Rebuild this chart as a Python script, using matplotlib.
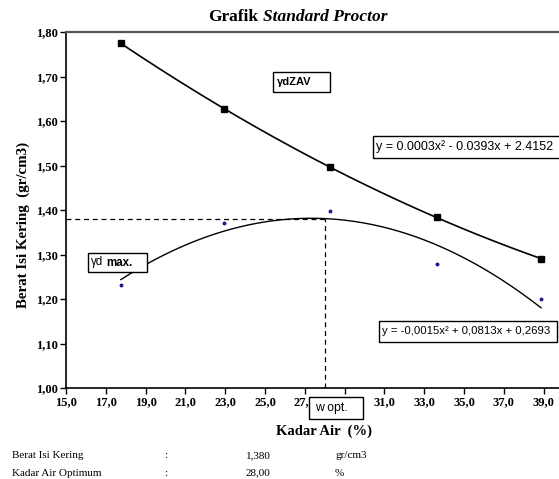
import numpy as np
import matplotlib.pyplot as plt
from matplotlib.patches import Rectangle

# Data
KadarAir = [17.76, 22.92, 28.27, 33.66, 38.87]
BeratIsi_Lab = [1.231, 1.371, 1.398, 1.278, 1.199]
BeratIsi_ZAV = [1.775, 1.627, 1.496, 1.384, 1.290]
GammaMax = 1.38
W_Opt = 28.0
X_Ticks = np.arange(15, 40, 2)
Y_Ticks = np.arange(1.0, 1.81, 0.1)
Eq_ZAV = "y = 0.0003x\u00b2 - 0.0393x + 2.4152"
Eq_Lab = "y = -0,0015x\u00b2 + 0,0813x + 0,2693"

serif = "Liberation Serif"
sans = "Liberation Sans"
W, H = 559, 479

fig = plt.figure(figsize=(5.59, 4.79), dpi=100)
ax = fig.add_axes([66/W, 1 - 388/H, 1 - 66/W, (388 - 32)/H])

# Trendlines (2nd order polynomial) through the points
x_fit = np.linspace(KadarAir[0], KadarAir[-1], 200)
c_zav = np.polyfit(KadarAir, BeratIsi_ZAV, 2)
c_lab = np.polyfit(KadarAir, BeratIsi_Lab, 2)
ax.plot(x_fit, np.polyval(c_zav, x_fit), color="black", lw=1.2, zorder=2)
ax.plot(x_fit, np.polyval(c_lab, x_fit), color="black", lw=1.0, zorder=2)
ax.plot(KadarAir, BeratIsi_ZAV, "s", color="black", ms=5, zorder=3)
ax.plot(KadarAir, BeratIsi_Lab, "o", color="#1a1a8c", ms=1.8, zorder=3)

# Optimum lines
ax.plot([15, W_Opt], [GammaMax, GammaMax], color="black", lw=0.9, ls=(0, (4, 3)), zorder=2)
ax.plot([W_Opt, W_Opt], [1.0, GammaMax], color="black", lw=0.9, ls=(0, (4, 3)), zorder=2)

ax.set_xlim(15, 15 + (W - 66) / 19.9)
ax.set_ylim(1.0, 1.8)
ax.set_xticks(X_Ticks)
# the 29,0 label sits under the "w opt." box, so it is left blank
ax.set_xticklabels(["" if v == 29 else f"{v:.1f}".replace(".", ",") for v in X_Ticks])
ax.set_yticks(Y_Ticks)
ax.set_yticklabels([f"{v:.2f}".replace(".", ",") for v in Y_Ticks])
for lab in ax.get_xticklabels() + ax.get_yticklabels():
      lab.set_fontfamily(serif)
      lab.set_fontweight("bold")
      lab.set_fontsize(9)
ax.tick_params(direction="out", length=4, width=1, pad=2)
ax.spines["right"].set_visible(False)
ax.spines["top"].set_color("#555555")
ax.spines["top"].set_linewidth(1.6)
for s in ["left", "bottom"]:
      ax.spines[s].set_linewidth(1.2)

# Label boxes (pixel extents x0, y0, x1, y1 from top-left)
def label_box(x0, y0, x1, y1, pieces):
      fig.add_artist(Rectangle((x0/W, 1 - y1/H), (x1 - x0)/W, (y1 - y0)/H, transform=fig.transFigure,
                               fc="white", ec="black", lw=1.0, zorder=5))
      for px, txt, kw in pieces:
            fig.text(px/W, 1 - (y0 + y1)/2/H, txt, ha="left", va="center", zorder=6, **kw)

label_box(273, 72, 330, 92, [(277, "\u03b3dZAV", dict(fontfamily=sans, fontweight="bold", fontsize=8))])
label_box(373, 136, 561, 158, [(376, Eq_ZAV, dict(fontfamily=sans, fontsize=9))])
label_box(379, 321, 557, 342, [(382, Eq_Lab, dict(fontfamily=sans, fontsize=8.2))])
label_box(88, 253, 147, 272, [(91, "\u03b3d", dict(fontfamily=sans, fontsize=8.3)),
                              (106, "max.", dict(fontfamily=sans, fontweight="bold", fontsize=8.3))])
label_box(309, 397, 363, 419, [(315, "w opt.", dict(fontfamily=sans, fontsize=8.8))])

# Title and axis labels
fig.text(208/W, 1 - 17/H, "Grafik", fontfamily=serif, fontweight="bold", fontsize=12.5, ha="left", va="center")
fig.text(263/W, 1 - 17/H, "Standard Proctor", fontfamily=serif, fontweight="bold", style="italic", fontsize=12.5, ha="left", va="center")
fig.text(23/W, 1 - 225/H, "Berat Isi Kering  (gr/cm3)", fontfamily=serif, fontweight="bold", fontsize=10.8, rotation=90, ha="center", va="center")
fig.text(324/W, 1 - 431/H, "Kadar Air  (%)", fontfamily=serif, fontweight="bold", fontsize=10.5, ha="center", va="center")

# Summary below the chart
rows = [["Berat Isi Kering", ":", "1,380", "gr/cm3"], ["Kadar Air Optimum", ":", "28,00", "%"]]
cols = [12, 164, 246, 335]
for i, row in enumerate(rows):
      for j, txt in enumerate(row):
            fig.text(cols[j]/W, 1 - (456 + 17*i)/H, txt, fontfamily=serif, fontsize=8, ha="left", va="center")

fig.savefig("out.png", dpi=100)
